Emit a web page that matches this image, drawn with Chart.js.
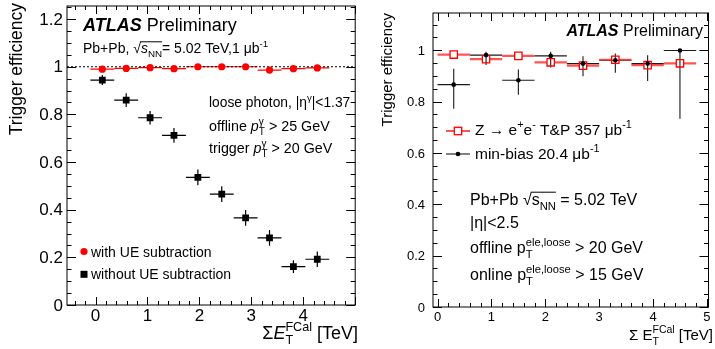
<!DOCTYPE html>
<html>
<head>
<meta charset="utf-8">
<script src="https://cdn.jsdelivr.net/npm/chart.js@4/dist/chart.umd.min.js"></script>
<style>
    html, body { margin: 0; padding: 0; background: #fff; }
    #wrap { position: relative; width: 715px; height: 349px; }
    canvas { position: absolute; top: 0; }
    #leftChart { left: 0; }
    #rightChart { left: 360px; }
</style>
</head>
<body>
<div id="wrap">
    <canvas id="leftChart" width="360" height="349" style="width:360px;height:349px"></canvas>
    <canvas id="rightChart" width="355" height="349" style="width:355px;height:349px"></canvas>
</div>
<script>
// Left panel: photon trigger efficiency vs FCal sum ET
const photonBins = [0.13, 0.59, 1.05, 1.51, 1.97, 2.43, 2.89, 3.35, 3.81, 4.27];
const photonBinHalf = [0.23, 0.23, 0.23, 0.23, 0.23, 0.23, 0.23, 0.23, 0.23, 0.23];
const withUE = [0.990, 0.993, 0.996, 0.992, 1.000, 1.000, 1.000, 0.986, 0.992, 0.995];
const withUEErr = [0.003, 0.003, 0.003, 0.003, 0.003, 0.003, 0.003, 0.003, 0.003, 0.003];
const withoutUE = [0.944, 0.860, 0.786, 0.712, 0.536, 0.465, 0.366, 0.282, 0.161, 0.192];
const withoutUEErr = [0.021, 0.029, 0.028, 0.031, 0.033, 0.033, 0.033, 0.033, 0.027, 0.033];
const leftXTicks = [0, 1, 2, 3, 4];
const leftYTicks = [0, 0.2, 0.4, 0.6, 0.8, 1, 1.2];

// Right panel: electron trigger efficiency vs FCal sum ET
const eleBins = [0.3, 0.9, 1.5, 2.1, 2.7, 3.3, 3.9, 4.5];
const eleBinHalf = [0.3, 0.3, 0.3, 0.3, 0.3, 0.3, 0.3, 0.3];
const zTagProbe = [0.983, 0.965, 0.978, 0.953, 0.940, 0.963, 0.942, 0.949];
const zTagProbeErr = [0.008, 0.008, 0.008, 0.008, 0.008, 0.008, 0.008, 0.008];
const minBias = [0.866, 0.981, 0.883, 0.978, 0.948, 0.961, 0.948, 0.999];
const minBiasErrLo = [0.094, 0.039, 0.056, 0.045, 0.049, 0.049, 0.068, 0.266];
const minBiasErrHi = [0.062, 0.013, 0.042, 0.016, 0.029, 0.026, 0.032, 0.001];
const rightXTicks = [0, 1, 2, 3, 4, 5];
const rightYTicks = [0, 0.2, 0.4, 0.6, 0.8, 1];

const FAM = '"Liberation Sans", Arial, Helvetica, sans-serif';

function fontOf(p, size) {
    return (p.it ? 'italic ' : '') + (p.b ? 'bold ' : '') + size + 'px ' + FAM;
}

function partWidth(ctx, p, size) {
    ctx.font = fontOf(p, size);
    const w = ctx.measureText(p.t || '').width;
    ctx.font = fontOf({}, size * 0.7);
    const ws = Math.max(p.sub ? ctx.measureText(p.sub).width : 0, p.sup ? ctx.measureText(p.sup).width : 0);
    return w + ws;
}

// small helper for ROOT-like text with sub/superscripts and sqrt overline
function richText(ctx, x, y, parts, size, align) {
    const total = parts.reduce((a, p) => a + partWidth(ctx, p, size), 0);
    let cx = align === 'right' ? x - total : x;
    ctx.save();
    ctx.fillStyle = '#000';
    ctx.strokeStyle = '#000';
    ctx.textAlign = 'left';
    ctx.textBaseline = 'alphabetic';
    parts.forEach(p => {
        const full = partWidth(ctx, p, size);
        ctx.font = fontOf(p, size);
        const w = ctx.measureText(p.t || '').width;
        ctx.fillText(p.t || '', cx, y);
        ctx.font = fontOf({}, size * 0.7);
        if (p.sub) ctx.fillText(p.sub, cx + w, y + size * 0.3);
        if (p.sup) ctx.fillText(p.sup, cx + w, y - size * 0.45);
        if (p.ov) {
            ctx.lineWidth = 1;
            ctx.beginPath();
            ctx.moveTo(cx - 1, y - size * 0.8);
            ctx.lineTo(cx + full, y - size * 0.8);
            ctx.stroke();
        }
        cx += full;
    });
    ctx.restore();
}

function verticalTitle(ctx, text, cx, top, size) {
    ctx.save();
    ctx.translate(cx, top);
    ctx.rotate(-Math.PI / 2);
    ctx.font = size + 'px ' + FAM;
    ctx.fillStyle = '#000';
    ctx.textAlign = 'right';
    ctx.textBaseline = 'middle';
    ctx.fillText(text, 0, 0);
    ctx.restore();
}

const errorBars = {
    id: 'errorBars',
    beforeDatasetsDraw(chart) {
        const { ctx, scales: { x, y } } = chart;
        chart.data.datasets.forEach(ds => {
            const e = ds.errs;
            if (!e) return;
            ctx.save();
            ctx.strokeStyle = e.color;
            ctx.lineWidth = e.width;
            const g = e.gap || 0;
            ds.data.forEach((p, k) => {
                const px = x.getPixelForValue(p.x), py = y.getPixelForValue(p.y);
                const x0 = x.getPixelForValue(p.x - e.xHalf[k]), x1 = x.getPixelForValue(p.x + e.xHalf[k]);
                const yHi = y.getPixelForValue(p.y + e.hi[k]), yLo = y.getPixelForValue(p.y - e.lo[k]);
                ctx.beginPath();
                ctx.moveTo(x0, py); ctx.lineTo(px - g, py);
                ctx.moveTo(px + g, py); ctx.lineTo(x1, py);
                if (yHi < py - g) { ctx.moveTo(px, yHi); ctx.lineTo(px, py - g); }
                if (yLo > py + g) { ctx.moveTo(px, py + g); ctx.lineTo(px, yLo); }
                ctx.stroke();
            });
            ctx.restore();
        });
    }
};

// frame with ROOT style inward ticks on all sides, tick labels drawn by hand
function framePlugin(cfg) {
    return {
        id: 'frame',
        beforeDatasetsDraw(chart) {
            if (cfg.before) cfg.before(chart);
        },
        afterDraw(chart) {
            const { ctx, chartArea: a, scales: { x, y } } = chart;
            ctx.save();
            ctx.strokeStyle = '#000';
            ctx.lineWidth = 1;
            ctx.strokeRect(a.left, a.top, a.right - a.left, a.bottom - a.top);
            ctx.beginPath();
            for (let v = Math.ceil(x.min / cfg.xMinor - 1e-9) * cfg.xMinor; v <= x.max + 1e-9; v += cfg.xMinor) {
                const major = Math.abs(v - Math.round(v / cfg.xMajor) * cfg.xMajor) < 1e-6;
                const len = major ? cfg.xLen[0] : cfg.xLen[1];
                const px = Math.round(x.getPixelForValue(v)) + 0.5;
                ctx.moveTo(px, a.bottom); ctx.lineTo(px, a.bottom - len);
                ctx.moveTo(px, a.top); ctx.lineTo(px, a.top + len);
            }
            for (let v = Math.ceil(y.min / cfg.yMinor - 1e-9) * cfg.yMinor; v <= y.max + 1e-9; v += cfg.yMinor) {
                const major = Math.abs(v - Math.round(v / cfg.yMajor) * cfg.yMajor) < 1e-6;
                const len = major ? cfg.yLen[0] : cfg.yLen[1];
                const py = Math.round(y.getPixelForValue(v)) + 0.5;
                ctx.moveTo(a.left, py); ctx.lineTo(a.left + len, py);
                ctx.moveTo(a.right, py); ctx.lineTo(a.right - len, py);
            }
            ctx.stroke();

            ctx.fillStyle = '#000';
            ctx.font = cfg.labelSize + 'px ' + FAM;
            ctx.textAlign = 'center';
            ctx.textBaseline = 'top';
            cfg.xTicks.forEach(v => ctx.fillText(String(v), x.getPixelForValue(v), a.bottom + cfg.xPad));
            ctx.textAlign = 'right';
            ctx.textBaseline = 'middle';
            cfg.yTicks.forEach(v => ctx.fillText(String(v), a.left - cfg.yPad, y.getPixelForValue(v) + 1));
            ctx.restore();

            cfg.after(chart, ctx);
        }
    };
}

new Chart(document.getElementById('leftChart'), {
    type: 'scatter',
    data: {
        datasets: [{
            label: 'with UE subtraction',
            data: photonBins.map((v, i) => ({ x: v, y: withUE[i] })),
            pointStyle: 'circle',
            pointRadius: 3.6,
            backgroundColor: '#ff0000',
            borderColor: '#ff0000',
            borderWidth: 0,
            errs: { xHalf: photonBinHalf, lo: withUEErr, hi: withUEErr, color: '#ff0000', width: 1.2 }
        }, {
            label: 'without UE subtraction',
            data: photonBins.map((v, i) => ({ x: v, y: withoutUE[i] })),
            pointStyle: 'rect',
            pointRadius: 4.8,
            backgroundColor: '#000',
            borderColor: '#000',
            borderWidth: 0,
            errs: { xHalf: photonBinHalf, lo: withoutUEErr, hi: withoutUEErr, color: '#000', width: 1.2 }
        }]
    },
    options: {
        responsive: false,
        animation: false,
        layout: { padding: { left: 67, right: 3, top: 6, bottom: 44 } },
        plugins: { legend: { display: false }, tooltip: { enabled: false } },
        scales: {
            x: { type: 'linear', min: -0.55, max: 5, display: false },
            y: { type: 'linear', min: 0, max: 1.255, display: false }
        }
    },
    plugins: [errorBars, framePlugin({
        xMinor: 0.2, xMajor: 1, xLen: [8, 4],
        yMinor: 0.05, yMajor: 0.2, yLen: [9, 4.5],
        xTicks: leftXTicks, yTicks: leftYTicks,
        labelSize: 17, xPad: 3, yPad: 4,
        before(chart) {
            const { ctx, chartArea: a, scales: { y } } = chart;
            const py = y.getPixelForValue(1);
            ctx.save();
            ctx.strokeStyle = '#000';
            ctx.lineWidth = 1;
            ctx.setLineDash([2, 2]);
            ctx.beginPath();
            ctx.moveTo(a.left, py); ctx.lineTo(a.right, py);
            ctx.stroke();
            ctx.restore();
        },
        after(chart, ctx) {
            richText(ctx, 83, 31, [{ t: 'ATLAS', b: 1, it: 1 }, { t: ' Preliminary' }], 18);
            richText(ctx, 83, 53, [{ t: 'Pb+Pb, ' }, { t: '\u221A' }, { t: 's', it: 1, sub: 'NN', ov: 1 }, { t: '= 5.02 TeV,1 \u03BCb', sup: '-1' }], 14);
            richText(ctx, 209, 107, [{ t: 'loose photon, |\u03B7', sup: '\u03B3' }, { t: '|<1.37' }], 13.8);
            richText(ctx, 209, 131, [{ t: 'offline ' }, { t: 'p', it: 1, sub: 'T', sup: '\u03B3' }, { t: ' > 25 GeV' }], 14.3);
            richText(ctx, 209, 153, [{ t: 'trigger ' }, { t: 'p', it: 1, sub: 'T', sup: '\u03B3' }, { t: ' > 20 GeV' }], 14.3);

            // legend
            ctx.save();
            ctx.fillStyle = '#ff0000';
            ctx.beginPath();
            ctx.arc(84, 251.5, 3.6, 0, Math.PI * 2);
            ctx.fill();
            ctx.fillStyle = '#000';
            ctx.fillRect(80.5, 270.8, 7, 7);
            ctx.restore();
            richText(ctx, 91, 256.5, [{ t: 'with UE subtraction' }], 14);
            richText(ctx, 91, 279, [{ t: 'without UE subtraction' }], 14);

            richText(ctx, 358, 339, [{ t: '\u03A3' }, { t: 'E', it: 1, sub: 'T', sup: 'FCal' }, { t: ' [TeV]' }], 18, 'right');
            verticalTitle(ctx, 'Trigger efficiency', 17, 3, 17.5);
        }
    })]
});

new Chart(document.getElementById('rightChart'), {
    type: 'scatter',
    data: {
        datasets: [{
            label: 'min-bias 20.4 \u03BCb-1',
            data: eleBins.map((v, i) => ({ x: v, y: minBias[i] })),
            pointStyle: 'circle',
            pointRadius: 2.3,
            backgroundColor: '#000',
            borderColor: '#000',
            borderWidth: 0,
            errs: { xHalf: eleBinHalf, lo: minBiasErrLo, hi: minBiasErrHi, color: '#1a1a1a', width: 1.1 }
        }, {
            label: 'Z \u2192 ee T&P 357 \u03BCb-1',
            data: eleBins.map((v, i) => ({ x: v, y: zTagProbe[i] })),
            pointStyle: 'rect',
            pointRadius: 5.2,
            backgroundColor: 'rgba(0,0,0,0)',
            borderColor: '#ff0000',
            borderWidth: 1.3,
            errs: { xHalf: eleBinHalf, lo: zTagProbeErr, hi: zTagProbeErr, color: 'rgba(255,40,40,0.8)', width: 2.2, gap: 3.7 }
        }]
    },
    options: {
        responsive: false,
        animation: false,
        layout: { padding: { left: 73, right: 6, top: 13, bottom: 42 } },
        plugins: { legend: { display: false }, tooltip: { enabled: false } },
        scales: {
            x: { type: 'linear', min: -0.085, max: 5.03, display: false },
            y: { type: 'linear', min: 0, max: 1.145, display: false }
        }
    },
    plugins: [errorBars, framePlugin({
        xMinor: 0.2, xMajor: 1, xLen: [8, 4],
        yMinor: 0.05, yMajor: 0.2, yLen: [9, 4.5],
        xTicks: rightXTicks, yTicks: rightYTicks,
        labelSize: 13, xPad: 4, yPad: 8,
        after(chart, ctx) {
            richText(ctx, 343, 35.5, [{ t: 'ATLAS', b: 1, it: 1 }, { t: ' Preliminary' }], 16, 'right');

            // legend
            ctx.save();
            ctx.strokeStyle = 'rgba(255,40,40,0.8)';
            ctx.lineWidth = 2.2;
            ctx.beginPath();
            ctx.moveTo(86, 131); ctx.lineTo(94.3, 131);
            ctx.moveTo(101.7, 131); ctx.lineTo(110, 131);
            ctx.stroke();
            ctx.strokeStyle = '#ff0000';
            ctx.lineWidth = 1.3;
            ctx.strokeRect(94.3, 127.3, 7.4, 7.4);
            ctx.strokeStyle = '#1a1a1a';
            ctx.lineWidth = 1.1;
            ctx.beginPath();
            ctx.moveTo(86, 154); ctx.lineTo(110, 154);
            ctx.stroke();
            ctx.fillStyle = '#000';
            ctx.beginPath();
            ctx.arc(98, 154, 2.3, 0, Math.PI * 2);
            ctx.fill();
            ctx.restore();
            richText(ctx, 115, 135, [{ t: 'Z \u2192 e', sup: '+' }, { t: 'e', sup: '-' }, { t: ' T&P 357 \u03BCb', sup: '-1' }], 15.5);
            richText(ctx, 115, 159, [{ t: 'min-bias 20.4 \u03BCb', sup: '-1' }], 15.5);

            richText(ctx, 110, 205, [{ t: 'Pb+Pb ' }, { t: '\u221A' }, { t: 's', sub: 'NN', ov: 1 }, { t: ' = 5.02 TeV' }], 16);
            richText(ctx, 110, 228, [{ t: '|\u03B7|<2.5' }], 16);
            richText(ctx, 110, 253, [{ t: 'offline p', sub: 'T', sup: 'ele,loose' }, { t: ' > 20 GeV' }], 16);
            richText(ctx, 110, 280, [{ t: 'online p', sub: 'T', sup: 'ele,loose' }, { t: ' > 15 GeV' }], 16);

            richText(ctx, 353, 340, [{ t: '\u03A3 E', sub: 'T', sup: 'FCal' }, { t: ' [TeV]' }], 15, 'right');
            verticalTitle(ctx, 'Trigger efficiency', 27.5, 13, 15);
        }
    })]
});
</script>
</body>
</html>
